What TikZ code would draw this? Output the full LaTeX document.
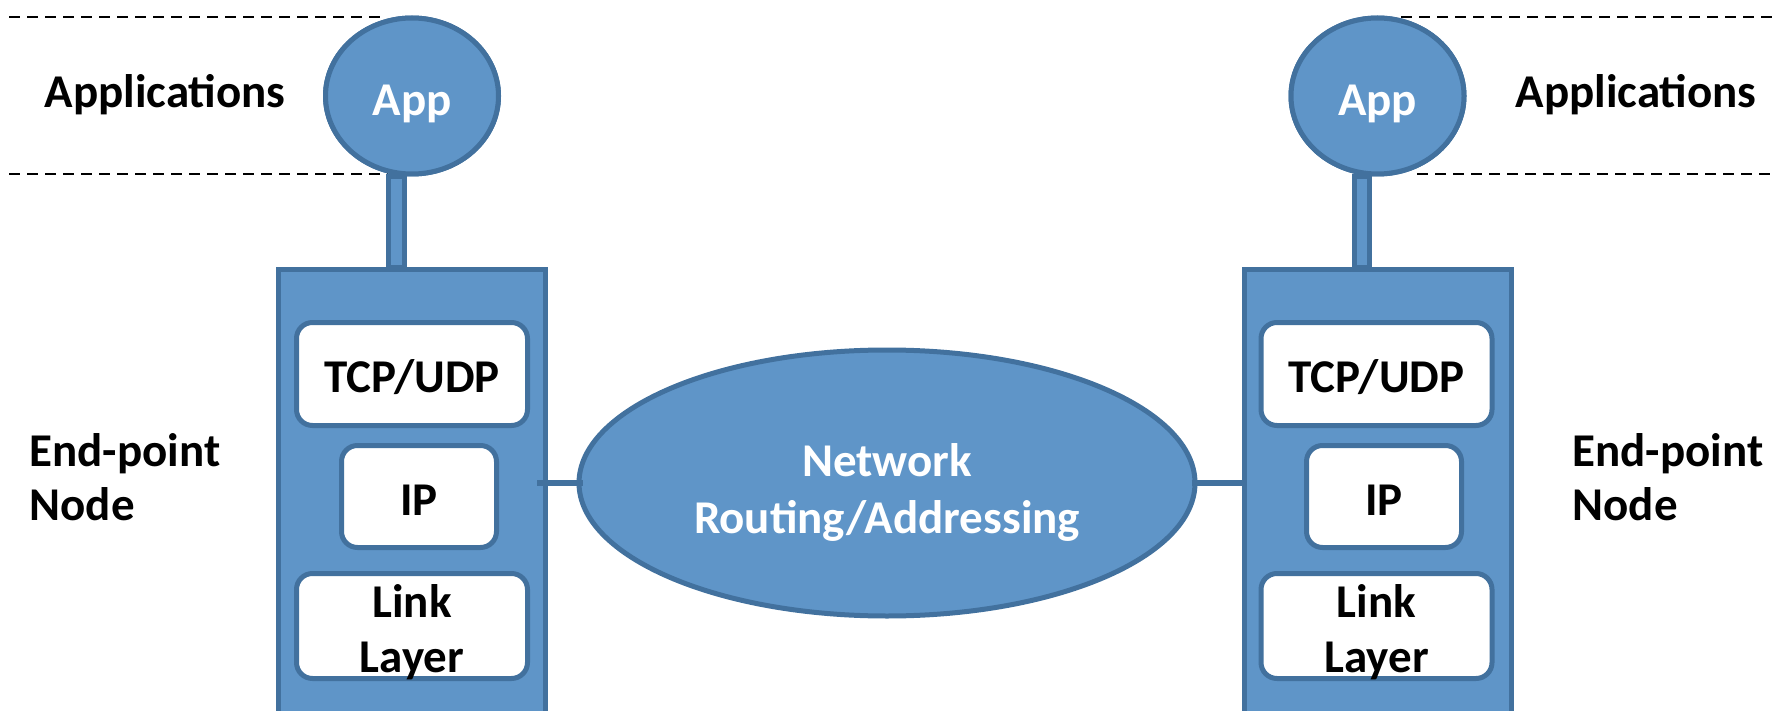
\documentclass[tikz,border=0pt]{standalone}
\usepackage{fontspec}
\setmainfont{Carlito}
\usetikzlibrary{shapes.geometric}
\definecolor{nodefill}{RGB}{95,149,200}
\definecolor{nodeline}{RGB}{66,113,158}
\newcommand{\bigbold}[1]{\fontsize{47}{#1}\selectfont\bfseries}
\tikzset{
  blueshape/.style={draw=nodeline, fill=nodefill, line width=5pt, inner sep=0pt},
  appnode/.style={blueshape, ellipse, minimum width=173pt, minimum height=156pt},
  netnode/.style={blueshape, ellipse, minimum width=616pt, minimum height=266pt},
  hostbox/.style={blueshape, rectangle, minimum width=267pt, minimum height=490pt},
  layerbox/.style={draw=nodeline, fill=white, line width=5pt, rounded corners=16pt,
    inner sep=0pt},
  stembar/.style={draw=nodeline, fill=nodefill, line width=5pt},
  linkline/.style={draw=nodeline, line width=6.5pt},
  dashline/.style={draw=black, line width=2.4pt, dash pattern=on 11pt off 7pt},
  label/.style={text=black, align=left, font=\bigbold{54}},
  whitetext/.style={text=white, align=center, font=\bigbold{57}},
  blacktext/.style={text=black, align=center, font=\bigbold{55}},
}
\begin{document}
\begin{tikzpicture}[x=1pt, y=-1pt]
\useasboundingbox (0,0) rectangle (1785,711);
\clip (0,0) rectangle (1785,711);

% layer boundaries of the application level
\coordinate (lt1) at (9,17);    \coordinate (lt2) at (387,17);
\coordinate (lb1) at (9,174);   \coordinate (lb2) at (388,174);
\coordinate (rt1) at (1401,17); \coordinate (rt2) at (1776,17);
\coordinate (rb1) at (1417,174);\coordinate (rb2) at (1776,174);
\draw[dashline] (lt1) -- (lt2);
\draw[dashline] (lb1) -- (lb2);
\draw[dashline] (rt1) -- (rt2);
\draw[dashline] (rb1) -- (rb2);

% end-point hosts
\node[hostbox] (hostL) at (412,515) {};
\node[hostbox] (hostR) at (1377.5,515) {};

% applications on top of the hosts, joined by a short stem
\node[appnode] (appL) at (412,96) {};
\node[appnode] (appR) at (1377.5,96) {};
\path[stembar] ([xshift=-23.5pt]appL.south) rectangle ([xshift=-8pt]hostL.north);
\path[stembar] ([xshift=-23.5pt]appR.south) rectangle ([xshift=-8pt]hostR.north);
\node[appnode] at (appL) {};
\node[appnode] at (appR) {};
\node[whitetext] (appLt) at (412,104) {App};
\node[whitetext] (appRt) at (1377.5,104) {App};

% protocol layers inside each host
\node[layerbox, minimum width=231pt, minimum height=103pt] (tcpL) at (412,374) {};
\node[layerbox, minimum width=155pt, minimum height=102pt] (ipL) at (419,496.5) {};
\node[layerbox, minimum width=231pt, minimum height=105pt] (lnkL) at (412,626) {};
\node[blacktext] at (412,377) {TCP/UDP};
\node[blacktext] at (419,500) {IP};
\node[blacktext] at (412,632) {Link\\Layer};

\node[layerbox, minimum width=231pt, minimum height=103pt] (tcpR) at (1376.5,374) {};
\node[layerbox, minimum width=155pt, minimum height=102pt] (ipR) at (1384,496.5) {};
\node[layerbox, minimum width=231pt, minimum height=105pt] (lnkR) at (1376.5,626) {};
\node[blacktext] at (1376.5,377) {TCP/UDP};
\node[blacktext] at (1384,500) {IP};
\node[blacktext] at (1376.5,632) {Link\\Layer};

% network in the middle and its attachments
\node[netnode] (net) at (887,483) {};
\node[whitetext] (nett) at (887,492) {Network\\Routing/Addressing};
\draw[linkline] ([xshift=-11pt]hostL.east |- net.west) -- ([xshift=6pt]net.west);
\draw[linkline] ([xshift=-6pt]net.east) -- (hostR.west |- net.east);

% side labels
\node[label] (applL) at (165,95) {Applications};
\node[label] (applR) at (1636,95) {Applications};
\node[label, anchor=west] (epL) at (26,477) {End-point\\Node};
\node[label, anchor=west] (epR) at (1569,477) {End-point\\Node};
\end{tikzpicture}
\end{document}
